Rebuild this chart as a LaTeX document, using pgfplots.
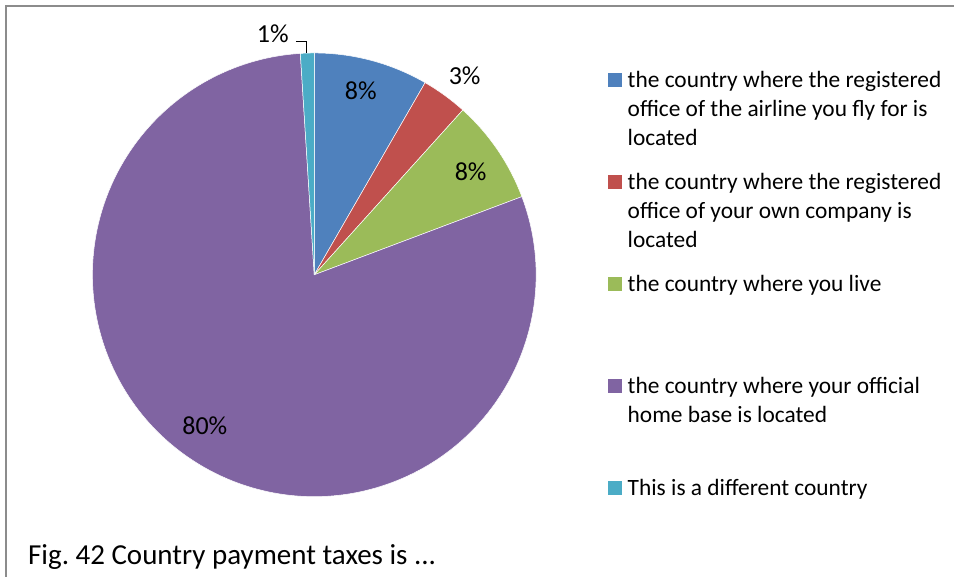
\documentclass[border=0pt]{standalone}
\usepackage{pgfplots}
\pgfplotsset{compat=1.18}
\usepackage{pgfplotstable}
\usepackage{fontspec}
\setmainfont{Carlito}
\definecolor{cBlue}{HTML}{4F81BD}
\definecolor{cRed}{HTML}{C0504D}
\definecolor{cGreen}{HTML}{9BBB59}
\definecolor{cPurple}{HTML}{8064A2}
\definecolor{cCyan}{HTML}{4BACC6}
\definecolor{frame}{HTML}{8C8C8C}
\pgfplotstableread{
idx pct
1 8.33
2 3.35
3 7.59
4 79.73
5 1.00
}\piedata
\begin{document}
\begin{tikzpicture}
\pgfplotstablegetelem{0}{pct}\of\piedata \pgfmathsetmacro\aA{90-3.6*\pgfplotsretval}
\pgfplotstablegetelem{1}{pct}\of\piedata \pgfmathsetmacro\aB{\aA-3.6*\pgfplotsretval}
\pgfplotstablegetelem{2}{pct}\of\piedata \pgfmathsetmacro\aC{\aB-3.6*\pgfplotsretval}
\pgfplotstablegetelem{3}{pct}\of\piedata \pgfmathsetmacro\aD{\aC-3.6*\pgfplotsretval}
\pgfplotstablegetelem{4}{pct}\of\piedata \pgfmathsetmacro\aE{\aD-3.6*\pgfplotsretval}
\begin{axis}[hide axis, scale only axis, width=955pt, height=577pt,
  xmin=0, xmax=955, ymin=0, ymax=577, y dir=reverse, clip=false]
\path (axis cs:0,0) rectangle (axis cs:955,577);
% frame
\draw[frame, line width=1.5pt] (axis cs:6,577) -- (axis cs:6,6) -- (axis cs:955,6);
% pie
\def\cx{314.5}\def\cy{275}\def\R{222pt}
\filldraw[fill=cBlue, draw=white, line width=0.5pt] (axis cs:\cx,\cy) -- ++(90:\R) arc[start angle=90, end angle=\aA, radius=\R] -- cycle;
\filldraw[fill=cRed, draw=white, line width=0.5pt] (axis cs:\cx,\cy) -- ++(\aA:\R) arc[start angle=\aA, end angle=\aB, radius=\R] -- cycle;
\filldraw[fill=cGreen, draw=white, line width=0.5pt] (axis cs:\cx,\cy) -- ++(\aB:\R) arc[start angle=\aB, end angle=\aC, radius=\R] -- cycle;
\filldraw[fill=cPurple, draw=white, line width=0.5pt] (axis cs:\cx,\cy) -- ++(\aC:\R) arc[start angle=\aC, end angle=\aD, radius=\R] -- cycle;
\filldraw[fill=cCyan, draw=white, line width=0.5pt] (axis cs:\cx,\cy) -- ++(\aD:\R) arc[start angle=\aD, end angle=\aE, radius=\R] -- cycle;
% data labels
\tikzset{dl/.style={font=\fontsize{26}{31}\selectfont, inner sep=0pt}}
\node[dl] at (axis cs:361,91) {8\%};
\node[dl] at (axis cs:465,76) {3\%};
\node[dl] at (axis cs:471,172) {8\%};
\node[dl] at (axis cs:205,426) {80\%};
\node[dl] at (axis cs:273,34) {1\%};
\draw[black, line width=0.9pt] (axis cs:296,41.5) -- (axis cs:307,41.5) -- (axis cs:307,53);
% legend
\tikzset{lg/.style={font=\fontsize{23.4}{29}\selectfont, inner sep=0pt, anchor=base west}}
\fill[cBlue] (axis cs:608,73) rectangle (axis cs:622,87);
\node[lg] at (axis cs:628,88) {the country where the registered};
\node[lg] at (axis cs:628,117) {office of the airline you fly for is};
\node[lg] at (axis cs:628,146) {located};
\fill[cRed] (axis cs:608,175) rectangle (axis cs:622,189);
\node[lg] at (axis cs:628,190) {the country where the registered};
\node[lg] at (axis cs:628,219) {office of your own company is};
\node[lg] at (axis cs:628,248) {located};
\fill[cGreen] (axis cs:608,277) rectangle (axis cs:622,291);
\node[lg] at (axis cs:628,292) {the country where you live};
\fill[cPurple] (axis cs:608,379) rectangle (axis cs:622,393);
\node[lg] at (axis cs:628,394) {the country where your official};
\node[lg] at (axis cs:628,423) {home base is located};
\fill[cCyan] (axis cs:608,481) rectangle (axis cs:622,495);
\node[lg] at (axis cs:628,496) {This is a different country};
% caption
\node[font=\fontsize{29}{34}\selectfont, inner sep=0pt, anchor=base west] at (axis cs:28,565) {Fig.\ 42 Country payment taxes is ...};
\end{axis}
\end{tikzpicture}
\end{document}
